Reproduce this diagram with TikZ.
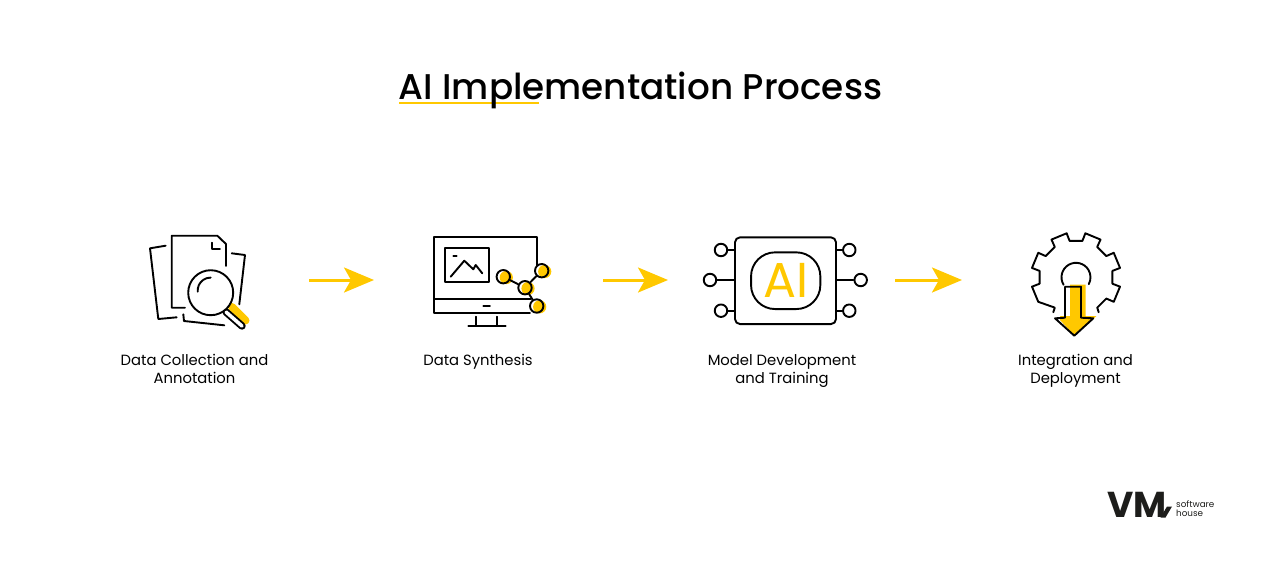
\documentclass[tikz,border=0pt]{standalone}
\usepackage{fontspec}
\setmainfont{Poppins}
\newfontfamily\midfont{Poppins}[UprightFont=* Medium]
\usepackage{xcolor}
\usepackage{tikz}
\usetikzlibrary{
  positioning,
  calc,
  arrows.meta
}
\definecolor{vmyellow}{HTML}{FFC800}
\definecolor{vmblack}{HTML}{1D1D1B}
\tikzset{
  iconline/.style={draw=black,line width=1.9,line join=round,line cap=round},
  cell/.style={inner sep=0,outer sep=0,minimum height=100},
  flowarrow/.style={draw=vmyellow,line width=3,-{Stealth[length=30,width=25,inset=7,fill=vmyellow]}},
  steplabel/.style={anchor=north,align=center,inner sep=0,font=\fontsize{14.8}{18}\selectfont},
  pinnode/.style={circle,iconline,fill=white,minimum size=12.5,inner sep=0},
  dotnode/.style={circle,iconline,minimum size=13.4,inner sep=0}
}
\begin{document}
\begin{tikzpicture}[x=1pt,y=-1pt]
  \useasboundingbox (0,0) rectangle (1270,566);

  % title
  \coordinate (ulineA) at (399,102.5);
  \coordinate (ulineB) at (539,102.5);
  \draw[vmyellow,line width=2] (ulineA)--(ulineB);
  \node[inner sep=0,font=\fontsize{35.75}{40}\selectfont\midfont] (title) at (640.5,90.5) {AI Implementation Process};

  % cells of the four steps
  \node[cell,minimum width=224] (collect) at (197,280) {};
  \node[cell,minimum width=229] (synth) at (488.5,280) {};
  \node[cell,minimum width=227] (train) at (781.5,280) {};
  \node[cell,minimum width=229] (deploy) at (1076.5,280) {};

  % arrows
  \draw[flowarrow] (collect)--(synth);
  \draw[flowarrow] (synth)--(train);
  \draw[flowarrow] (train)--(deploy);

  % labels
  \node[steplabel] (collectlabel) at (194.5,354) {Data Collection and\\Annotation};
  \node[steplabel] (synthlabel) at (478,354) {Data Synthesis};
  \node[steplabel] (trainlabel) at (782,354) {Model Development\\and Training};
  \node[steplabel] (deploylabel) at (1075.5,354) {Integration and\\Deployment};

  % documents and magnifier
  \draw[iconline] (185,307.7)--(171.7,307.7)--(171.7,235.7)--(217.3,235.7)--(226,244)--(226,266);
  \draw[iconline] (212.3,242.7)--(212.3,249.3)--(220,249.3);
  \draw[iconline] (165.7,245.7)--(150,248.3)--(158.3,319)--(176.7,317.3);
  \draw[iconline] (183.3,314.3)--(184,321)--(224.3,325.3);
  \draw[iconline] (231.7,253.3)--(245,255)--(239.3,304.3);
  \draw[vmyellow,line width=8,line cap=round] (232,307)--(245.5,320.5);
  \draw[black,line width=7.4,line cap=round] (226,312)--(242,326);
  \draw[white,line width=3.6,line cap=round] (226,312)--(242,326);
  \draw[iconline,fill=white] (210.7,292.7) circle (22.5);
  \draw[iconline] (197.7,291.7) arc[start angle=175,end angle=270,radius=13];

  % monitor
  \draw[iconline] (536.7,268)--(536.7,237.3)--(434.3,237.3)--(434.3,312.7)--(530,312.7);
  \draw[iconline] (434.3,299)--(531,299);
  \draw[iconline] (445,247.7) rectangle (489.3,281.7);
  \draw[iconline] (453.3,255.7)--(456.7,255.7);
  \draw[iconline] (450.7,276.7)--(464.3,260.7)--(473.3,269.3)--(475.7,265)--(482.3,273.3);
  \draw[iconline] (483.3,305.7)--(490,305.7);
  \draw[iconline] (476,316.7)--(476,325.7);
  \draw[iconline] (496.7,316.7)--(496.7,325.7);
  \draw[iconline] (468.3,325.7)--(505.7,325.7);

  % graph on the monitor
  \foreach \name/\cx/\cy in {dotA/503.3/276.7,dotB/525/287.7,dotC/541.7/270.7,dotD/536.7/306}{
    \fill[white] (\cx,\cy) circle (6.5);
    \fill[vmyellow] (\cx+3,\cy+0.8) circle (6.6);
    \node[dotnode] (\name) at (\cx,\cy) {};
  }
  \draw[iconline] (dotA)--(dotB);
  \draw[iconline] (dotB)--(dotC);
  \draw[iconline] (dotB)--(dotD);

  % chip
  \node[iconline,rounded corners=5,minimum width=101,minimum height=86.7,inner sep=0,outer sep=0] (chip) at (785.5,280.7) {};
  \node[iconline,rounded corners=24,minimum width=69.3,minimum height=56.7,inner sep=0,text=vmyellow,font=\fontsize{49}{49}\selectfont] (core) at (785.7,280.7) {AI};
  \foreach \name/\cx/\cy/\side in {pinA/721/250/west,pinB/710/280/west,pinC/721/310.7/west,pinD/849.3/250/east,pinE/860.7/280/east,pinF/849.3/310.7/east}{
    \node[pinnode] (\name) at (\cx,\cy) {};
    \draw[iconline] (\name)--(\name-|chip.\side);
  }

  % gear
  \begin{scope}[shift={(1076,277.3)},yscale=-1]
    \draw[iconline] (237:41.7)--(235:37)
      \foreach \a in {202.5,157.5,112.5,67.5,22.5,-22.5}{
        --({\a+10.5}:45)--({\a-10.5}:45)--({\a-12.5}:37)--({\a-32.5}:37)
      }--(-57:41.7);
    \draw[iconline] (211:14.5) arc[start angle=211,end angle=-28,radius=14.5];
  \end{scope}
  \fill[vmyellow] (1070,284.5)--(1085.5,284.5)--(1085.5,316)--(1096.5,316)--(1074.3,335.5)--(1060,320)--(1060,316)--(1070,316)--cycle;
  \draw[iconline] (1065,286.7)--(1081,286.7)--(1081,317.7)--(1093.3,318.3)--(1074.3,335.7)--(1055,318.3)--(1065,317.7)--cycle;

  % logo
  \node[inner sep=0,text=vmblack,font=\fontsize{36}{36}\selectfont\bfseries] (vm) at (1137,505) {VM};
  \fill[vmblack] (1160.5,517.5)--(1165.5,517.5)--(1172,506.5)--(1167,506.5)--cycle;
  \node[anchor=west,align=left,inner sep=0,text=vmblack,font=\fontsize{8.8}{9.4}\selectfont] (house) at (1176,508.5) {software\\house};
\end{tikzpicture}
\end{document}
